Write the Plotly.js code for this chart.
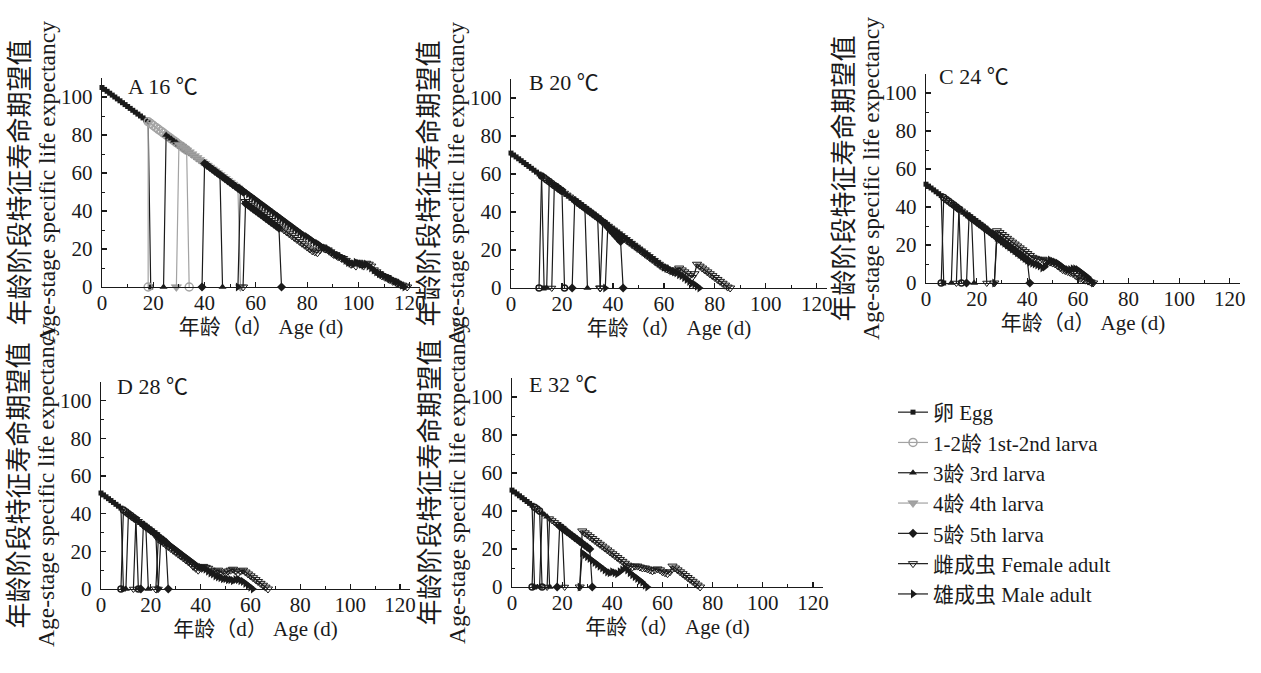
<!DOCTYPE html>
<html><head><meta charset="utf-8">
<script src="https://cdn.plot.ly/plotly-3.0.1.min.js"></script>
<style>html,body{margin:0;padding:0;background:#fff}#chart{width:1261px;height:673px}</style>
</head><body><div id="chart"></div>
<script>
// ---------- labels ----------
const SERIES_NAMES = ['卵 Egg', '1-2龄 1st-2nd larva', '3龄 3rd larva', '4龄 4th larva', '5龄 5th larva', '雌成虫 Female adult', '雄成虫 Male adult'];
const PANEL_TITLES = ['A 16 ℃', 'B 20 ℃', 'C 24 ℃', 'D 28 ℃', 'E 32 ℃'];
const X_TITLE = '年龄（d） Age (d)';
const Y_TITLE_CN = '年龄阶段特征寿命期望值';
const Y_TITLE_EN = 'Age-stage specific life expectancy';
const X_TICKS = [0, 20, 40, 60, 80, 100, 120];
const Y_TICKS = [0, 20, 40, 60, 80, 100];

// ---------- A 16 ℃ ----------
const A_egg_x = [0,1,2,3,4,5,6,7,8,9,10,11,12,13,14,15,16,17,18,19];
const A_egg_y = [105,104,103,102,101,100,99,98,97,96,95,94,93,92,91,90,89,88,87,0];
const A_l12_x = [18,18,19,20,21,22,23,24,25,26,27,28,29,30,31,32,33,34];
const A_l12_y = [0,87,86,85,84,83,82,81,80,79,78,77,76,75,74,73,72,0];
const A_l3_x = [24,25,26,27,28,29,30,31,32,33,34,35,36,37,38,39,40,41,42,43,44,45,46,47];
const A_l3_y = [0,80,79,78,77,76,75,74,73,72,71,70,69,68,67,66,65,64,63,62,61,60,59,0];
const A_l4_x = [29,30,31,32,33,34,35,36,37,38,39,40,41,42,43,44,45,46,47,48,49,50,51,52,53,54];
const A_l4_y = [0,75,74,73,72,71,70,69,68,67,66,65,64,63,62,61,60,59,58,57,56,55,54,53,52,0];
const A_l5_x = [39,40,41,42,43,44,45,46,47,48,49,50,51,52,53,54,55,56,57,58,59,60,61,62,63,64,65,66,67,68,69,70];
const A_l5_y = [0,65,64,63,62,61,60,59,58,57,56,55,54,53,52,51,50,44,43,42,41,40,39,38,37,36,35,34,33,32,31,0];
const A_fem_x = [55,56,57,58,59,60,61,62,63,64,65,66,67,68,69,70,71,72,73,74,75,76,77,78,79,80,81,82,83,84,85,86,87,88,89,90,91,92,93,94,95,96,97,98,99,100,101,102,103,104,105,106,107,108,109,110,111,112,113,114,115,116,117,118,119];
const A_fem_y = [0,45,44,43,42,41,40,39,38,37,36,35,34,33,32,31,30,29,28,27,26,25,24,23,22,21,20,19,18.5,18,19.5,21,20,19.5,18.5,17.5,17,16,15.5,15,14,13,12,12.5,11,13,12,11,12.5,12,11,9,8,7,6,5.5,5,4,3.5,3,2,1.5,1,0.5,0];
const A_male_x = [53,54,55,56,57,58,59,60,61,62,63,64,65,66,67,68,69,70,71,72,73,74,75,76,77,78,79,80,81,82,83,84,85,86,87,88,89,90,91,92,93,94,95,96,97,98,99,100,101,102,103,104,105,106,107,108,109,110,111,112,113,114,115,116,117,118];
const A_male_y = [0,52,51,50,49,48,47,46,45,44,43,42,41,40,39,38,37,36,35,34,33,32,31,30,29,28,27,26.5,25.5,24.5,23.5,23,22,21,20.5,20,19,18,17,16.5,16,15,14,13,12.5,12,13,12.5,12,11.5,12,11,10,9,8,7,6.5,6,5,4.5,4,3,2.5,2,1,0];

// ---------- B 20 ℃ ----------
const B_egg_x = [0,1,2,3,4,5,6,7,8,9,10,11,12,13];
const B_egg_y = [71,70,69,68,67,66,65,64,63,62,61,60,59,0];
const B_l12_x = [11,12,13,14,15,16,17,18,19,20,21];
const B_l12_y = [0,59,58,57,56,55,54,53,52,51,0];
const B_l3_x = [14,15,16,17,18,19,20,21,22,23,24,25,26,27,28,29,30];
const B_l3_y = [0,56,55,54,53,52,51,50,49,48,47,46,45,44,43,42,0];
const B_l4_x = [16,17,18,19,20,21,22,23,24,25,26,27,28,29,30,31,32,33,34,35];
const B_l4_y = [0,54,53,52,51,50,49,48,47,46,45,44,43,42,41,40,39,38,37,0];
const B_l5_x = [24,25,26,27,28,29,30,31,32,33,34,35,36,37,38,39,40,41,42,43,44];
const B_l5_y = [0,46,45,44,43,42,41,40,39,38,37,36,35,34,32,30.5,29,27.5,26,24.5,0];
const B_fem_x = [35,36,37,38,39,40,41,42,43,44,45,46,47,48,49,50,51,52,53,54,55,56,57,58,59,60,61,62,63,64,65,66,67,68,69,70,71,72,73,74,75,76,77,78,79,80,81,82,83,84,85,86];
const B_fem_y = [0,34.5,33.5,32.5,31.5,30.5,29.5,28.5,27.5,26.5,25.5,24.5,23.5,22.5,21.5,20.5,19.5,18.5,17.5,16.5,15.5,14.5,13.5,12.5,11.5,11,10,9.5,9,8.5,9.5,10.5,9.5,8.5,7.5,6.5,5.5,7.5,12.5,11.5,10.5,9.5,8.5,7.5,6.5,5.5,4.5,3.5,2.5,1.5,0.5,0];
const B_male_x = [37,38,39,40,41,42,43,44,45,46,47,48,49,50,51,52,53,54,55,56,57,58,59,60,61,62,63,64,65,66,67,68,69,70,71,72,73,74];
const B_male_y = [0,33,32,31,30,29,28,27,26,25,24,23,22,21,20,19,18,17,16,15,14,13,12,11,10.5,10,9,8.5,8,7,6.5,5.5,4.5,3.5,2.5,2,1,0];

// ---------- C 24 ℃ ----------
const C_egg_x = [0,1,2,3,4,5,6,7];
const C_egg_y = [52,51,50,49,48,47,46,0];
const C_l12_x = [6,7,8,9,10,11,12,13,14];
const C_l12_y = [0,45,44,43,42,41,40,39,0];
const C_l3_x = [10,11,12,13,14,15,16,17,18,19];
const C_l3_y = [0,41,40,39,38,37,36,35,34,0];
const C_l4_x = [12,13,14,15,16,17,18,19,20,21,22,23,24];
const C_l4_y = [0,39,38,37,36,35,34,33,32,31,30,29,0];
const C_l5_x = [16,17,18,19,20,21,22,23,24,25,26,27,28,29,30,31,32,33,34,35,36,37,38,39,40,41];
const C_l5_y = [0,35,34,33,32,31,30,29,28,27,26,25,24,23,22,21,20,19,18,17,16,15,14,13,12,0];
const C_fem_x = [27,28,29,30,31,32,33,34,35,36,37,38,39,40,41,42,43,44,45,46,47,48,49,50,51,52,53,54,55,56,57,58,59,60,61,62,63,64,65,66];
const C_fem_y = [0,27.5,26.5,25.5,24.5,23.5,22.5,21.5,20.5,19.5,18.5,17.5,16.5,15.5,14.5,13.5,13,12.5,12,12.5,12,11.5,11,10.5,10,9,8,7,6.5,6,5.5,5,4,3,2.5,2,1.5,1,0.5,0];
const C_male_x = [27,28,29,30,31,32,33,34,35,36,37,38,39,40,41,42,43,44,45,46,47,48,49,50,51,52,53,54,55,56,57,58,59,60,61,62,63,64,65,66];
const C_male_y = [0,24,23,22,21,20,19,18,17,16,15,14,13,12,11,10.5,10,9.5,9,8,8.5,10.5,12,11.5,11,10.5,9.5,8.5,7.5,7,7,7.5,7.5,7,6,5,4,3,1.5,0];

// ---------- D 28 ℃ ----------
const D_egg_x = [0,1,2,3,4,5,6,7,8,9];
const D_egg_y = [51,50,49,48,47,46,45,44,43,0];
const D_l12_x = [8,9,10,11,12,13,14,15];
const D_l12_y = [0,42,41,40,39,38,37,0];
const D_l3_x = [10,11,12,13,14,15,16,17,18,19];
const D_l3_y = [0,40,39,38,37,36,35,34,33,0];
const D_l4_x = [13,14,15,16,17,18,19,20,21,22,23];
const D_l4_y = [0,37,36,35,34,33,32,31,30,29,0];
const D_l5_x = [16,17,18,19,20,21,22,23,24,25,26,27];
const D_l5_y = [0,34,33,32,31,30,29,28,27,26,25,0];
const D_fem_x = [22,23,24,25,26,27,28,29,30,31,32,33,34,35,36,37,38,39,40,41,42,43,44,45,46,47,48,49,50,51,52,53,54,55,56,57,58,59,60,61,62,63,64,65,66,67];
const D_fem_y = [0,26.5,25.5,24.5,23.5,22.5,21.5,20.5,19.5,18.5,17.5,16.5,15.5,14.5,13.5,12,11,10,11.5,12,11.5,11,10,9,9.5,10,9,8,8.5,9.5,10,10.5,9.5,8.5,9.5,10,9,8,7,6,5,4,3,2,1,0];
const D_male_x = [23,24,25,26,27,28,29,30,31,32,33,34,35,36,37,38,39,40,41,42,43,44,45,46,47,48,49,50,51,52,53,54,55,56,57,58,59,60,61];
const D_male_y = [0,27,26,25,24,23,22,21,20,19,18,17,16,15,14,13,12,11.5,11,10.5,9.5,8.5,8,7,6.5,6,5.5,5.5,5,5,4.5,5,5,4.5,4,3,2,1,0];

// ---------- E 32 ℃ ----------
const E_egg_x = [0,1,2,3,4,5,6,7,8,9];
const E_egg_y = [51,50,49,48,47,46,45,44,43,0];
const E_l12_x = [8,9,10,11,12];
const E_l12_y = [0,42,41,40,0];
const E_l3_x = [11,12,13,14,15];
const E_l3_y = [0,39,38,37,0];
const E_l4_x = [14,15,16,17,18,19,20,21];
const E_l4_y = [0,36,35,34,33,32,31,0];
const E_l5_x = [18,19,20,21,22,23,24,25,26,27,28,29,30,31,32];
const E_l5_y = [0,32,31,30,29,28,27,26,25,24,23,22,21,20,0];
const E_fem_x = [27,28,29,30,31,32,33,34,35,36,37,38,39,40,41,42,43,44,45,46,47,48,49,50,51,52,53,54,55,56,57,58,59,60,61,62,63,64,65,66,67,68,69,70,71,72,73,74,75];
const E_fem_y = [0,29.5,28.5,27.5,26.5,25.5,24.5,23.5,22.5,21.5,20.5,19.5,18.5,17.5,16.5,15.5,14.5,13.5,12.5,11.5,11,10.5,11,11,10.5,10,10,9.5,9,8.5,9,9.5,9,8,7.5,7,8,11,10,9,8,7,6,5,4,3,2,1,0];
const E_male_x = [27,28,29,30,31,32,33,34,35,36,37,38,39,40,41,42,43,44,45,46,47,48,49,50,51,52,53,54];
const E_male_y = [0,18,17,16,15,14,13,12,11,10,9,8,7.5,8,7.5,7,8,9,10,9,7.5,6.5,5.5,4.5,3.5,2.5,1,0];

// series per panel, in legend order: egg, L1-2, L3, L4, L5, female, male
const PANEL_SERIES = [
  [[A_egg_x,A_egg_y],[A_l12_x,A_l12_y],[A_l3_x,A_l3_y],[A_l4_x,A_l4_y],[A_l5_x,A_l5_y],[A_fem_x,A_fem_y],[A_male_x,A_male_y]],
  [[B_egg_x,B_egg_y],[B_l12_x,B_l12_y],[B_l3_x,B_l3_y],[B_l4_x,B_l4_y],[B_l5_x,B_l5_y],[B_fem_x,B_fem_y],[B_male_x,B_male_y]],
  [[C_egg_x,C_egg_y],[C_l12_x,C_l12_y],[C_l3_x,C_l3_y],[C_l4_x,C_l4_y],[C_l5_x,C_l5_y],[C_fem_x,C_fem_y],[C_male_x,C_male_y]],
  [[D_egg_x,D_egg_y],[D_l12_x,D_l12_y],[D_l3_x,D_l3_y],[D_l4_x,D_l4_y],[D_l5_x,D_l5_y],[D_fem_x,D_fem_y],[D_male_x,D_male_y]],
  [[E_egg_x,E_egg_y],[E_l12_x,E_l12_y],[E_l3_x,E_l3_y],[E_l4_x,E_l4_y],[E_l5_x,E_l5_y],[E_fem_x,E_fem_y],[E_male_x,E_male_y]]
];

// ---------- styling ----------
const FONT = "'Liberation Serif', 'Noto Sans CJK SC', serif";
const INK = '#1a1a1a';
const GREY = '#a3a3a3';
// panel placement in pixels: [x0, x1, yTop, yBottom]
const BOXES = [[102,420,78,287],[511,827,79,288],[926,1240,74,283],[101,410,382,589],[512,823,378,587]];
const W = 1261, H = 673;

function seriesStyle(s, panel) {
  const grey = panel === 0;
  switch (s) {
    case 0: return {line:INK, marker:{symbol:'square', size:5, color:INK}};
    case 1: return {line: grey ? GREY : INK, marker:{symbol:'circle-open', size: grey ? 8 : 6, color: grey ? GREY : INK, line:{width:1.5}}};
    case 2: return {line:INK, marker:{symbol:'triangle-up', size:7, color:INK}};
    case 3: return grey ? {line:GREY, marker:{symbol:'triangle-down', size:9, color:GREY, line:{color:'#8a8a8a', width:0.5}}}
                        : {line:INK, marker:{symbol:'triangle-down-open', size:7, color:INK, line:{width:1}}};
    case 4: return {line:INK, marker:{symbol:'diamond', size:7, color:INK}};
    case 5: return {line:INK, marker:{symbol:'triangle-down-open', size:8, color:INK, line:{width:1}}};
    case 6: return {line:INK, marker:{symbol:'triangle-right', size:8, color:INK}};
  }
}
const DRAW_ORDER = [0,1,2,3,4,6,5];

const traces = [];
PANEL_SERIES.forEach((series, p) => {
  DRAW_ORDER.forEach(s => {
    const st = seriesStyle(s, p);
    const sfx = p === 0 ? '' : String(p + 1);
    traces.push({
      type:'scatter', mode:'lines+markers',
      x: series[s][0], y: series[s][1],
      xaxis:'x' + sfx, yaxis:'y' + sfx,
      name: SERIES_NAMES[s], legendgroup:'g' + s, legendrank: s + 1,
      showlegend: p === 0,
      line:{color: st.line, width:1.2},
      marker: st.marker,
      cliponaxis:false,
      hoverinfo:'x+y+name'
    });
  });
});

const layout = {
  width:W, height:H,
  margin:{l:0, r:0, t:0, b:0},
  paper_bgcolor:'#fff', plot_bgcolor:'#fff',
  font:{family:FONT, size:21, color:INK},
  showlegend:true,
  legend:{x:893/W, y:1-392/H, xanchor:'left', yanchor:'top', font:{family:FONT, size:21, color:INK},
          itemwidth:30, tracegroupgap:0, bgcolor:'rgba(0,0,0,0)', traceorder:'normal'},
  annotations:[]
};

BOXES.forEach((b, p) => {
  const sfx = p === 0 ? '' : String(p + 1);
  const common = {
    showline:true, linecolor:INK, linewidth:1.4, mirror:false, showgrid:false, zeroline:false,
    ticks:'inside', ticklen:5, tickwidth:1.2, tickcolor:INK,
    minor:{ticks:'inside', ticklen:3, tickwidth:1, tickcolor:INK, dtick:10},
    tickfont:{family:FONT, size:21, color:INK}, automargin:false, fixedrange:true
  };
  layout['xaxis' + sfx] = Object.assign({}, common, {
    domain:[b[0]/W, b[1]/W], anchor:'y' + sfx, range:[0,124],
    tickmode:'array', tickvals:X_TICKS, ticktext:X_TICKS.map(String), ticklabelstandoff:-4,
    title:{text:X_TITLE, font:{family:FONT, size:21, color:INK}, standoff:4}
  });
  layout['yaxis' + sfx] = Object.assign({}, common, {
    domain:[1 - b[3]/H, 1 - b[2]/H], anchor:'x' + sfx, range:[0,110],
    tickmode:'array', tickvals:Y_TICKS, ticktext:Y_TICKS.map(String), ticklabelstandoff:4,
    title:{text:'<span style="font-size:26px">' + Y_TITLE_CN + '</span><br><span style="font-size:23.5px">' + Y_TITLE_EN + '</span>',
           font:{family:FONT, size:20, color:INK}, standoff:0}
  });
  layout.annotations.push({
    xref:'x' + sfx + ' domain', yref:'y' + sfx + ' domain',
    x:[0.075,0.05,0.035,0.045,0.048][p], y:[0.96,0.985,0.99,0.98,0.97][p],
    xanchor:'left', yanchor:'middle', showarrow:false,
    text:PANEL_TITLES[p], font:{family:FONT, size:22, color:INK}
  });
});

Plotly.newPlot('chart', traces, layout, {displayModeBar:false, staticPlot:true});
</script></body></html>
